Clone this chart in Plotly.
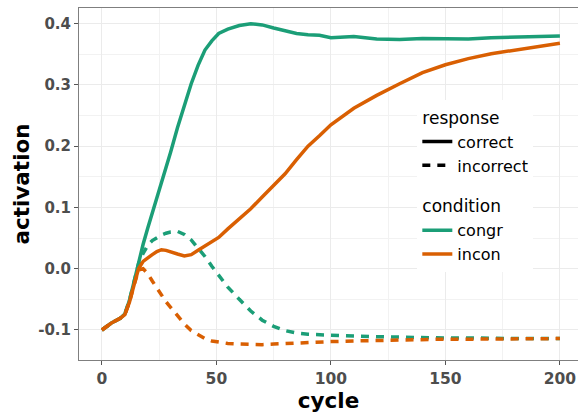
import plotly.graph_objects as go

cycle = [0, 2, 4, 6, 8, 10, 12, 14, 16, 18, 20, 22, 24, 26, 28, 30, 33, 36, 39, 42, 45,
         48, 51, 55, 60, 65, 70, 75, 80, 85, 90, 95, 100, 110, 120, 130, 140, 150, 160,
         170, 180, 190, 200]

congr_correct = [-0.100, -0.094, -0.089, -0.085, -0.081, -0.074, -0.052, -0.022, 0.012, 0.040,
                 0.066, 0.090, 0.114, 0.138, 0.163, 0.190, 0.230, 0.268, 0.302, 0.332, 0.357,
                 0.372, 0.384, 0.391, 0.397, 0.400, 0.398, 0.393, 0.389, 0.384, 0.382, 0.381,
                 0.377, 0.379, 0.375, 0.374, 0.376, 0.376, 0.375, 0.377, 0.378, 0.380, 0.380]

congr_incorrect = [-0.100, -0.094, -0.089, -0.085, -0.081, -0.074, -0.052, -0.022, 0.008, 0.025,
                   0.038, 0.046, 0.051, 0.055, 0.058, 0.060, 0.061, 0.056, 0.047, 0.034, 0.020,
                   0.004, -0.010, -0.030, -0.050, -0.069, -0.084, -0.094, -0.101, -0.105, -0.107,
                   -0.108, -0.109, -0.110, -0.111, -0.112, -0.113, -0.113, -0.113, -0.114, -0.114,
                   -0.114, -0.114]

incon_correct = [-0.100, -0.094, -0.089, -0.085, -0.081, -0.075, -0.055, -0.027, 0.000, 0.012,
                 0.018, 0.023, 0.028, 0.031, 0.030, 0.027, 0.024, 0.021, 0.023, 0.030, 0.037,
                 0.043, 0.051, 0.065, 0.082, 0.098, 0.117, 0.136, 0.155, 0.178, 0.200, 0.217,
                 0.235, 0.262, 0.283, 0.302, 0.320, 0.333, 0.343, 0.351, 0.357, 0.362, 0.368]

incon_incorrect = [-0.100, -0.094, -0.089, -0.085, -0.081, -0.075, -0.055, -0.027, -0.002, 0.000,
                   -0.008, -0.020, -0.032, -0.044, -0.054, -0.063, -0.077, -0.090, -0.101, -0.108,
                   -0.114, -0.118, -0.120, -0.122, -0.123, -0.124, -0.124, -0.123, -0.122, -0.121,
                   -0.120, -0.119, -0.119, -0.118, -0.117, -0.116, -0.116, -0.115, -0.115, -0.115,
                   -0.114, -0.114, -0.114]

x_ticks = [0, 50, 100, 150, 200]
x_labels = ["0", "50", "100", "150", "200"]
y_ticks = [-0.1, 0.0, 0.1, 0.2, 0.3, 0.4]
y_labels = ["-0.1", "0.0", "0.1", "0.2", "0.3", "0.4"]

GREEN = "#1B9E77"
ORANGE = "#D95F02"
LW = 3.5
DASH = "8px,7px"
FONT = "DejaVu Sans"

fig = go.Figure()

series = [
    (congr_correct, GREEN, "solid"),
    (congr_incorrect, GREEN, DASH),
    (incon_correct, ORANGE, "solid"),
    (incon_incorrect, ORANGE, DASH),
]
for ys, col, dash in series:
    fig.add_trace(go.Scatter(x=cycle, y=ys, mode="lines", showlegend=False,
                             line=dict(color=col, width=LW, dash=dash),
                             hoverinfo="skip"))

# legend entries
fig.add_trace(go.Scatter(x=[None], y=[None], mode="lines", name="correct",
                         legendgroup="response", legendgrouptitle_text="response",
                         line=dict(color="black", width=LW, dash="solid")))
fig.add_trace(go.Scatter(x=[None], y=[None], mode="lines", name="incorrect",
                         legendgroup="response",
                         line=dict(color="black", width=LW, dash=DASH)))
fig.add_trace(go.Scatter(x=[None], y=[None], mode="lines", name="congr",
                         legendgroup="condition", legendgrouptitle_text="condition",
                         line=dict(color=GREEN, width=LW)))
fig.add_trace(go.Scatter(x=[None], y=[None], mode="lines", name="incon",
                         legendgroup="condition",
                         line=dict(color=ORANGE, width=LW)))

fig.update_layout(
    width=578, height=415,
    margin=dict(l=79, r=0, t=8, b=55, autoexpand=False),
    plot_bgcolor="white", paper_bgcolor="white",
    font=dict(family=FONT, color="black"),
    legend=dict(x=0.678, y=0.74, xanchor="left", yanchor="top",
                bgcolor="white", borderwidth=0,
                font=dict(family=FONT, size=16, color="black"),
                grouptitlefont=dict(family=FONT, size=17, color="black"),
                tracegroupgap=16, itemwidth=30, traceorder="grouped"),
)

fig.update_xaxes(
    range=[-10, 207.9], tickvals=x_ticks, ticktext=x_labels, automargin=False,
    showline=True, linecolor="#7f7f7f", linewidth=1, mirror=True,
    ticks="outside", ticklen=4, tickcolor="#555555",
    tickfont=dict(family=FONT, size=15.5, color="#4D4D4D", weight="bold"),
    showgrid=True, gridcolor="#ebebeb", gridwidth=1,
    minor=dict(tickvals=[25, 75, 125, 175], showgrid=True, gridcolor="#f2f2f2", gridwidth=0.8, ticks=""),
    zeroline=False,
    title=dict(text="cycle", font=dict(family=FONT, size=21.5, color="black", weight="bold"), standoff=6),
)
fig.update_yaxes(
    range=[-0.149, 0.4256], tickvals=y_ticks, ticktext=y_labels, automargin=False,
    showline=True, linecolor="#7f7f7f", linewidth=1,
    ticks="outside", ticklen=4, tickcolor="#555555",
    tickfont=dict(family=FONT, size=15, color="#4D4D4D", weight="bold"),
    showgrid=True, gridcolor="#ebebeb", gridwidth=1,
    minor=dict(tickvals=[-0.05, 0.05, 0.15, 0.25, 0.35], showgrid=True, gridcolor="#f2f2f2", gridwidth=0.8, ticks=""),
    zeroline=False,
    title=dict(text="activation", font=dict(family=FONT, size=21.5, color="black", weight="bold"), standoff=2),
)

fig.write_html("out.html", config={"displayModeBar": False})

# remove the browser's default page margin so the figure sits at the top-left corner
with open("out.html", "r", encoding="utf-8") as f:
    html = f.read()
html = html.replace("<head>", "<head><style>html,body{margin:0;padding:0;overflow:hidden;}</style>", 1)
with open("out.html", "w", encoding="utf-8") as f:
    f.write(html)
